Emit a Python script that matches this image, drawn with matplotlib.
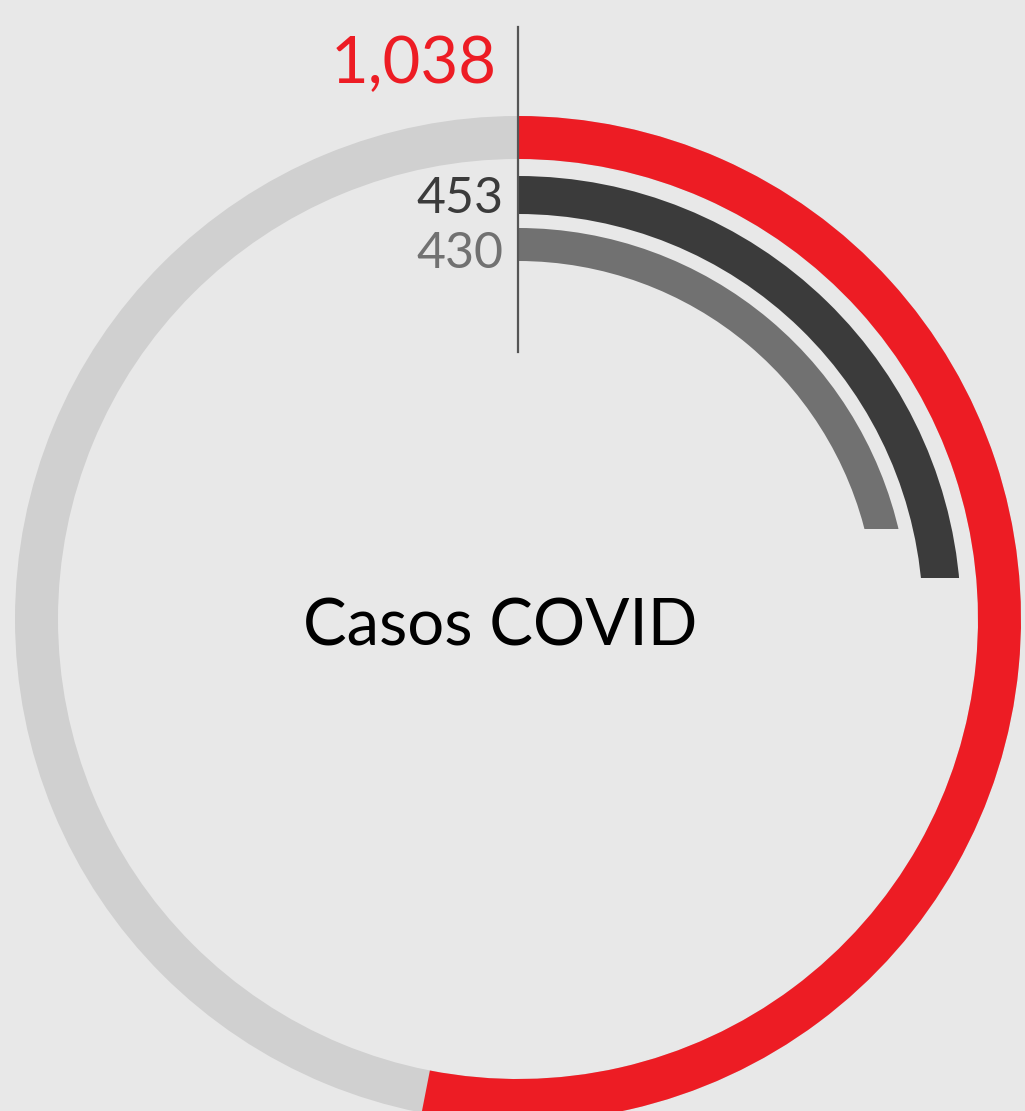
import matplotlib
matplotlib.use("Agg")
import matplotlib.pyplot as plt
from matplotlib.patches import Rectangle
from matplotlib.transforms import IdentityTransform
import numpy as np

# ring values (outer to inner) and the total that a full turn stands for
values = [1038, 453, 430]
totals = [1956, 1932, 2033]
labels = ["1,038", "453", "430"]
colors = ["#ed1c24", "#3b3b3b", "#717171"]
title = "Casos COVID"

W, H = 1025, 1111
cx, cy = 518, 619      # centre in pixels (from top)
R = 503

fig = plt.figure(figsize=(W / 100, H / 100), dpi=100)
fig.patch.set_facecolor("#e8e8e8")

ax = fig.add_axes([(cx - R) / W, (H - cy - R) / H, 2 * R / W, 2 * R / H], projection="polar")
ax.set_theta_zero_location("N")
ax.set_theta_direction(-1)
ax.set_ylim(0, R)
ax.axis("off")
ax.patch.set_alpha(0)

ring_in = [460, 405, 358]
ring_w = [43, 38, 33]

# grey track behind the outer ring
ax.bar(0, ring_w[0], width=2 * np.pi, bottom=ring_in[0], color="#d0d0d0",
       align="edge", linewidth=0, clip_on=False)

for i, (v, t, r0, w, c) in enumerate(zip(values, totals, ring_in, ring_w, colors)):
    ang = 2 * np.pi * v / t
    if i == 0:
        ax.bar(0, w, width=ang, bottom=r0, color=c, align="edge",
               linewidth=0, clip_on=False)
    else:
        # inner rings end with a flat (horizontal) cut
        bars = ax.bar(0, w, width=ang + np.radians(4), bottom=r0, color=c,
                      align="edge", linewidth=0)
        _, ycut = ax.transData.transform((ang, r0 + w / 2))
        rect = Rectangle((-5000, ycut), 20000, 20000, transform=IdentityTransform())
        for b in bars:
            b.set_clip_path(rect)

ax.plot([0, 0], [267, 592], color="#555555", lw=1.6, clip_on=False, zorder=5)

font = "Lato"
fig.text(497 / W, 1 - 83 / H, labels[0], color=colors[0], fontsize=47,
         ha="right", va="baseline", family=font)
fig.text(503 / W, 1 - 213 / H, labels[1], color=colors[1], fontsize=36,
         ha="right", va="baseline", family=font)
fig.text(503 / W, 1 - 268 / H, labels[2], color=colors[2], fontsize=36,
         ha="right", va="baseline", family=font)
fig.text(500 / W, 1 - 645 / H, title, color="black", fontsize=47,
         ha="center", va="baseline", family=font)

fig.savefig("out.png", dpi=100, facecolor=fig.get_facecolor())
